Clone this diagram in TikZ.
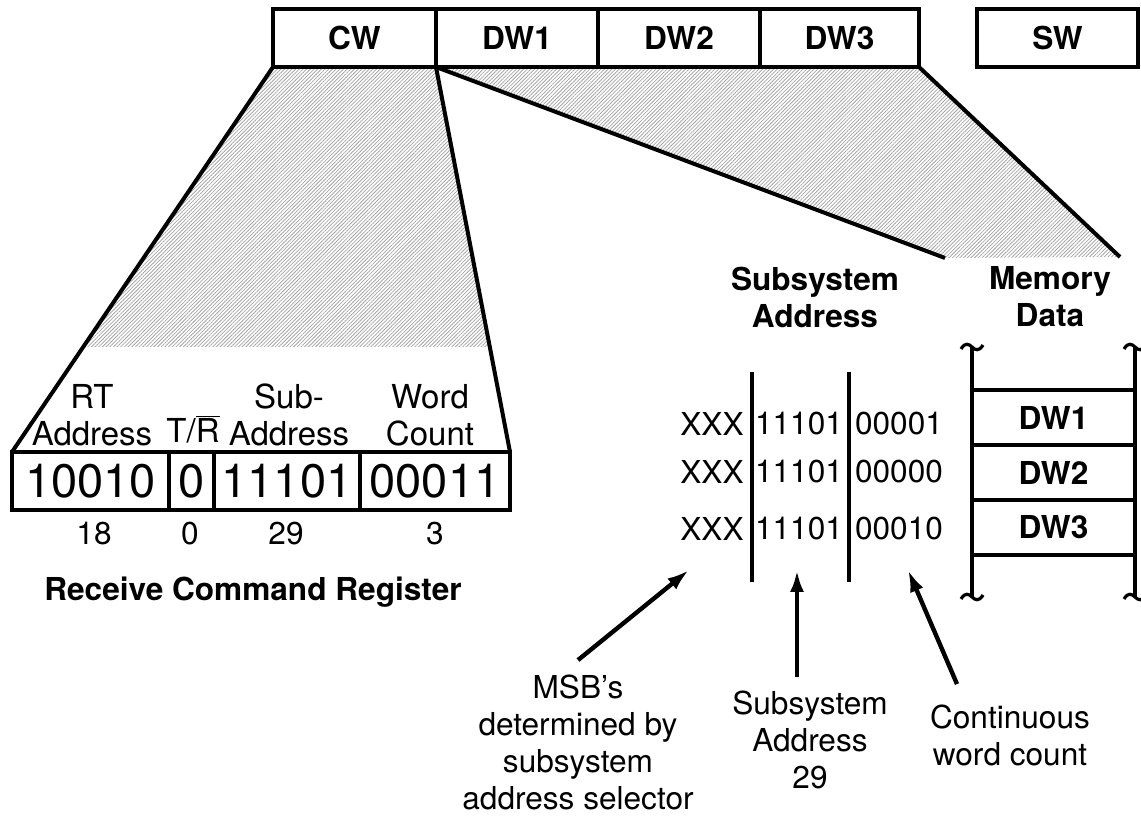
\documentclass[tikz,border=0pt]{standalone}
\usepackage{fontspec}
\setmainfont{TeX Gyre Heros}
\usetikzlibrary{positioning,calc,patterns.meta,arrows.meta,backgrounds}

\newcommand{\lbl}{\fontsize{15.8}{18.5}\selectfont}
\newcommand{\reglbl}{\fontsize{16.5}{18.5}\selectfont}

\tikzset{
	wbox/.style={draw,line width=2pt,outer sep=0pt,inner sep=0pt,minimum height=29pt,font=\lbl\bfseries},
	rbox/.style={draw,line width=2pt,outer sep=0pt,inner sep=0pt,minimum height=29pt,font=\fontsize{23.5}{23.5}\selectfont},
	mcell/.style={draw,line width=2pt,outer sep=0pt,minimum width=81.5pt,minimum height=27.5pt,font=\lbl\bfseries},
	txt/.style={align=center,inner sep=0pt},
	heavy/.style={line width=2pt},
	hatch/.style={pattern={Lines[angle=45,distance=1.3pt,line width=0.4pt]},pattern color=gray!70},
	arr/.style={line width=2.2pt,-{Latex[length=11pt,width=7pt]}},
	brk/.pic={\draw[line width=1.6pt] (-5.5pt,-1pt) .. controls (-3.5pt,2.5pt) and (-1.5pt,1.5pt) .. (0,0) .. controls (1.5pt,-1.5pt) and (3.5pt,-2.5pt) .. (5.5pt,1pt);}
}

\begin{document}
\begin{tikzpicture}[x=0.5pt,y=-0.5pt,font=\lbl]
	\useasboundingbox (0,0) rectangle (1141,817);

	% message words
	\node[wbox,minimum width=81.5pt] (cw) at (354.5,38) {CW};
	\node[wbox,minimum width=81pt,right=0pt of cw] (dw1) {DW1};
	\node[wbox,minimum width=81pt,right=0pt of dw1] (dw2) {DW2};
	\node[wbox,minimum width=79.5pt,right=0pt of dw2] (dw3) {DW3};
	\node[wbox,minimum width=80.5pt] (sw) at (1057.5,38) {SW};

	% receive command register
	\node[rbox,minimum width=78.5pt] (rta) at (90.5,481) {10010};
	\node[rbox,minimum width=22.5pt,right=0pt of rta] (tr) {0};
	\node[rbox,minimum width=73pt,right=0pt of tr] (sa) {11101};
	\node[rbox,minimum width=75pt,right=0pt of sa] (wc) {00011};

	\node[txt,font=\reglbl] (rtl) at (92,415) {RT\\Address};
	\node[txt,font=\reglbl,anchor=base] (trl) at (193,443) {T/$\overline{\hbox{R}}$};
	\node[txt,font=\reglbl] (sal) at (289,415) {Sub-\\Address};
	\node[txt,font=\reglbl] (wcl) at (430,415) {Word\\Count};

	\node (n18) at (94,534) {18};
	\node (n0) at (190,534) {0};
	\node (n29) at (286,534) {29};
	\node (n3) at (435,534) {3};
	\node[font=\lbl\bfseries] (rcr) at (253,592) {Receive Command Register};

	% fans out of the words
	\coordinate (dwl) at (945,258);
	\coordinate (dwr) at (1120,257);
	\begin{scope}[on background layer]
		\fill[hatch] (cw.south west) -- (cw.south east)
			-- ($(cw.south east)!0.727!(wc.north east)$)
			-- ($(cw.south west)!0.727!(rta.north west)$) -- cycle;
		\fill[hatch] (dw1.south west) -- (dw3.south east) -- (dwr) -- (dwl) -- cycle;
	\end{scope}
	\draw[heavy] (cw.south west) -- (rta.north west);
	\draw[heavy] (cw.south east) -- (wc.north east);
	\draw[heavy] (dw1.south west) -- (dwl);
	\draw[heavy] (dw3.south east) -- (dwr);

	% subsystem address
	\node[txt,font=\lbl\bfseries] (ssh) at (815,297) {Subsystem\\Address};
	\coordinate (c1t) at (752,372);
	\coordinate (c1b) at (752,582);
	\coordinate (c2t) at (849,372);
	\coordinate (c2b) at (849,582);
	\draw[heavy] (c1t) -- (c1b);
	\draw[heavy] (c2t) -- (c2b);
	\foreach \y/\w [count=\i] in {424/00001,472/00000,529/00010} {
		\node (x\i) at (712,\y) {XXX};
		\node (s\i) at (799,\y) {11101};
		\node (w\i) at (899,\y) {\w};
	}

	% memory data
	\node[txt,font=\lbl\bfseries] (mdh) at (1050,297) {Memory\\Data};
	\node[mcell] (m1) at (1053.5,417.5) {DW1};
	\node[mcell,below=0pt of m1] (m2) {DW2};
	\node[mcell,below=0pt of m2] (m3) {DW3};
	\coordinate (mtl) at ($(m1.north west)+(0,-43)$);
	\coordinate (mbl) at ($(m3.south west)+(0,42)$);
	\coordinate (mtr) at ($(m1.north east)+(0,-43)$);
	\coordinate (mbr) at ($(m3.south east)+(0,42)$);
	\draw[heavy] (mtl) -- (mbl);
	\draw[heavy] (mtr) -- (mbr);
	\path (mtl) pic {brk} (mbl) pic {brk} (mtr) pic {brk} (mbr) pic {brk};

	% notes
	\node[txt] (msb) at (578,742) {MSB’s\\determined by\\subsystem\\address selector};
	\node[txt] (sa29) at (810,740) {Subsystem\\Address\\29};
	\node[txt] (cwc) at (1010,735) {Continuous\\word count};
	\coordinate (msbtip) at (689,570);
	\coordinate (satip) at (797,570);
	\coordinate (cwctip) at (908,570);
	\draw[arr] ([yshift=7pt]msb.north) -- (msbtip);
	\draw[arr] ([xshift=-6.5pt,yshift=7pt]sa29.north) -- (satip);
	\draw[arr] ([xshift=-26.5pt,yshift=10pt]cwc.north) -- (cwctip);
\end{tikzpicture}
\end{document}
